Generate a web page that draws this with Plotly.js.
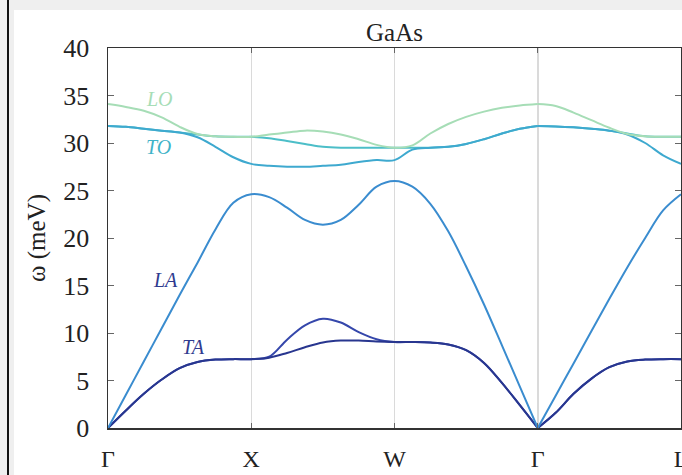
<!DOCTYPE html>
<html>
<head>
<meta charset="utf-8">
<script src="https://cdn.plot.ly/plotly-3.0.1.min.js"></script>
<style>
  html, body { margin:0; padding:0; width:682px; height:475px; overflow:hidden; background:#efefef; }
  #edge { position:absolute; left:7px; top:0; width:2px; height:475px; background:#111; }
  #chart { position:absolute; left:14px; top:10px; width:690px; height:465px; background:#fff; }
</style>
</head>
<body>
<div id="edge"></div>
<div id="chart"></div>
<script>
// k-path coordinate (Γ=0, X=1, W=2, Γ=3, L=4)
const kpos = [0,0.125,0.25,0.375,0.5,0.625,0.75,0.875,
              1,1.125,1.25,1.375,1.5,1.625,1.75,1.875,
              2,2.125,2.25,2.375,2.5,2.625,2.75,2.875,
              3,3.125,3.25,3.375,3.5,3.625,3.75,3.875,4];
const kTickVals = [0,1,2,3,4];
const kTickText = ['Γ','X','W','Γ','L'];

// phonon branches (meV)
const band1 = [0,1.85,3.6,5.1,6.3,6.95,7.2,7.25,
               7.25,7.4,7.9,8.5,9.0,9.2,9.2,9.1,
               9.05,9.05,9.0,8.8,8.2,6.85,4.75,2.4,
               0,1.6,3.6,5.2,6.4,7.0,7.2,7.25,7.25];
const band2 = [0,1.85,3.6,5.1,6.3,6.95,7.2,7.25,
               7.25,7.5,9.3,10.8,11.5,11.1,10.1,9.35,
               9.05,9.05,9.0,8.8,8.2,6.85,4.75,2.4,
               0,1.6,3.6,5.2,6.4,7.0,7.2,7.25,7.25];
const band3 = [0,3.5,7.0,10.5,14.0,17.4,20.9,23.7,
               24.6,24.3,23.2,21.9,21.4,21.9,23.5,25.4,
               26.0,25.4,23.6,20.7,17.0,13.0,8.7,4.35,
               0,3.4,6.8,10.2,13.6,16.9,20.0,22.9,24.6];
const band4 = [31.8,31.7,31.5,31.3,31.1,30.6,29.6,28.5,
               27.8,27.6,27.5,27.5,27.6,27.7,28.0,28.2,
               28.2,29.3,29.5,29.6,29.9,30.4,31.0,31.5,
               31.8,31.75,31.65,31.5,31.3,30.9,30.0,28.7,27.8];
const band5 = [31.8,31.7,31.5,31.3,31.1,30.9,30.7,30.65,
               30.65,30.5,30.2,29.9,29.6,29.5,29.5,29.5,
               29.5,29.5,29.5,29.6,29.9,30.4,31.0,31.5,
               31.8,31.75,31.65,31.5,31.3,31.0,30.7,30.65,30.65];
const band6 = [34.1,33.8,33.4,32.7,31.7,30.95,30.7,30.65,
               30.65,30.9,31.1,31.3,31.2,30.9,30.4,29.8,
               29.5,29.75,31.0,32.0,32.75,33.3,33.7,33.95,
               34.1,33.9,33.2,32.4,31.6,30.95,30.7,30.65,30.65];

const branchLabels = ['LO','TO','LA','TA'];
const labelK = [0.36,0.35,0.40,0.60];
const labelW = [34.6,29.6,15.6,8.5];

const serif = 'Liberation Serif, DejaVu Serif, serif';
const bands = [
  {y: band2, c: '#3547ab'},
  {y: band1, c: '#28368f'},
  {y: band3, c: '#3a8ccf'},
  {y: band5, c: '#4cbec8'},
  {y: band4, c: '#3ea9cf'},
  {y: band6, c: '#a6ddb6'}
];
// split each band at the inner Γ point (index 24), where the acoustic branches form a sharp V
const pieces = [[0, 25], [24, 33]];
const traces = [];
bands.forEach(b => {
  pieces.forEach(p => {
    traces.push({
      x: kpos.slice(p[0], p[1]), y: b.y.slice(p[0], p[1]),
      type: 'scatter', mode: 'lines',
      line: {color: b.c, width: 2, shape: 'spline', smoothing: 1},
      hoverinfo: 'skip', showlegend: false
    });
  });
});

const labelColors = ['#a6ddb6','#3fb3c8','#2f3b8f','#2f3b8f'];
const annotations = branchLabels.map((t,i) => ({
  x: labelK[i], y: labelW[i], xref: 'x', yref: 'y',
  text: '<i>' + t + '</i>', showarrow: false,
  font: {family: serif, size: 20, color: labelColors[i]}
}));

const layout = {
  width: 690, height: 465,
  margin: {l: 94, r: 23, t: 38, b: 47},
  paper_bgcolor: '#ffffff', plot_bgcolor: '#ffffff',
  title: {text: 'GaAs', font: {family: serif, size: 25, color: '#222'},
          x: 0.5, xref: 'paper', xanchor: 'center', y: 0.953, yref: 'container', yanchor: 'middle'},
  xaxis: {
    range: [0, 4], tickvals: kTickVals, ticktext: kTickText,
    showgrid: true, gridcolor: '#dadada', gridwidth: 1.5,
    showline: true, linecolor: '#333', linewidth: 1.5, mirror: 'ticks',
    ticks: 'inside', ticklen: 5, tickcolor: '#666', tickwidth: 1,
    ticklabelstandoff: 9, ticklabeloverflow: 'allow',
    tickfont: {family: serif, size: 24, color: '#222'}, zeroline: false
  },
  yaxis: {
    range: [0, 40], dtick: 5, tick0: 0,
    showgrid: false,
    showline: true, linecolor: '#333', linewidth: 1.5, mirror: 'ticks',
    ticks: 'inside', ticklen: 6, tickcolor: '#666', tickwidth: 1,
    ticklabelstandoff: 12,
    tickfont: {family: serif, size: 26, color: '#222'}, zeroline: false,
    title: {text: 'ω (meV)', standoff: 10, font: {family: serif, size: 25, color: '#222'}}
  },
  annotations: annotations
};

Plotly.newPlot('chart', traces, layout, {displayModeBar: false, staticPlot: true});
</script>
</body>
</html>
